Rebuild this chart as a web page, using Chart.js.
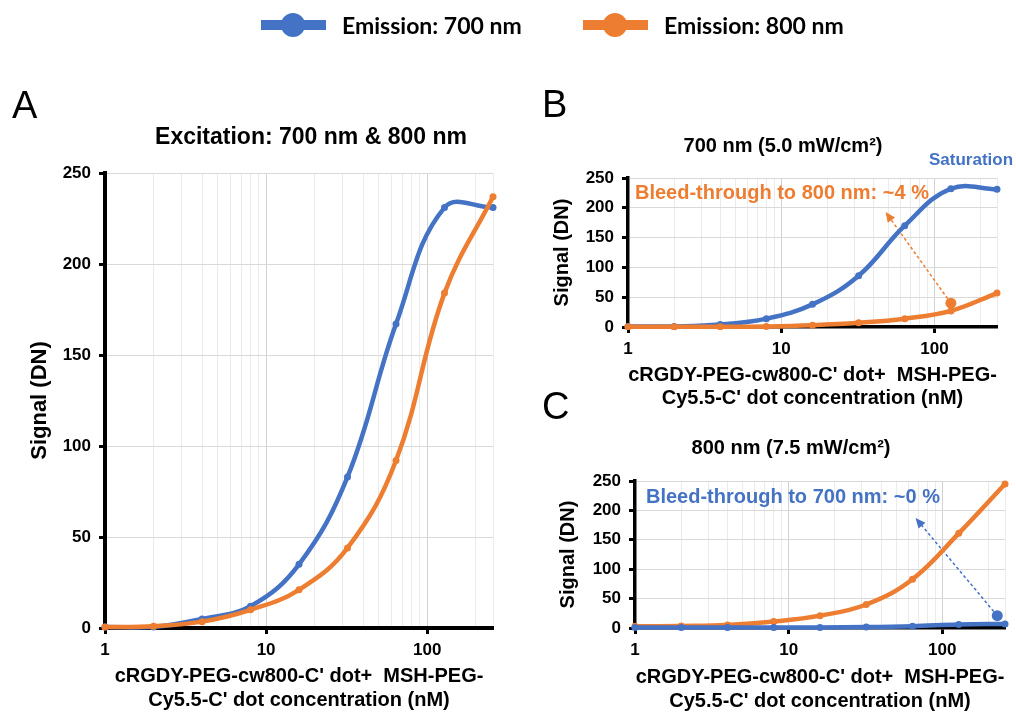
<!DOCTYPE html>
<html>
<head>
<meta charset="utf-8">
<script src="https://cdn.jsdelivr.net/npm/chart.js@4.4.0/dist/chart.umd.min.js"></script>
<style>
  body { margin: 0; background: #fff; width: 1016px; height: 715px; position: relative; overflow: hidden; }
  canvas { position: absolute; }
  #chartA { left: 0; top: 0; }
  #chartB { left: 520px; top: 0; }
  #chartC { left: 520px; top: 380px; }
  .legend-item { position: absolute; top: 10px; height: 30px; display: flex; align-items: center;
    font: bold 23px Lato, sans-serif; color: #000; white-space: nowrap; }
  .swatch { position: relative; width: 65px; height: 10px; margin-right: 16px; }
  .swatch i { position: absolute; left: 20px; top: -7px; width: 24px; height: 24px; border-radius: 50%; background: inherit; }
</style>
</head>
<body>
<canvas id="chartA" width="520" height="715"></canvas>
<canvas id="chartB" width="496" height="410"></canvas>
<canvas id="chartC" width="496" height="335"></canvas>
<div id="legend"></div>
<script>
// concentrations (nM), doubling series
const conc = [1, 2, 4, 8, 16, 32, 64, 128, 256];
const xTickLabels = [1, 10, 100];
const yTicks = [0, 50, 100, 150, 200, 250];
const seriesNames = ['Emission: 700 nm', 'Emission: 800 nm'];

// A: excitation at both wavelengths
const aEm700 = [0.5, 0.5, 5, 12, 35, 83, 167, 231, 231];
const aEm800 = [0.5, 1, 3.5, 10, 21, 44, 92, 184, 237];

// B: 700 nm excitation
const bEm700 = [1, 1, 4, 14, 38, 86, 170, 232, 231];
const bEm800 = [0.5, 0.5, 0.5, 1, 3, 7, 14, 27, 57];
const bMark = [{ x: 128, y: 40 }];

// C: 800 nm excitation
const cEm700 = [1, 1, 1, 1, 1, 1.5, 3, 6, 7];
const cEm800 = [3, 3.5, 5, 11, 21, 40, 83, 161, 245];
const cMark = [{ x: 228, y: 21 }];

const BLUE = '#4472C4';
const ORANGE = '#ED7D31';
const FONT = '"Liberation Sans", Arial, sans-serif';
const xTitle = ["cRGDY-PEG-cw800-C' dot+  MSH-PEG-", "Cy5.5-C' dot concentration (nM)"];

// legend across the top
[[seriesNames[0], BLUE, 261], [seriesNames[1], ORANGE, 583]].forEach(([name, color, left]) => {
  const item = document.createElement('div');
  item.className = 'legend-item';
  item.style.left = left + 'px';
  item.innerHTML = '<span class="swatch" style="background:' + color + '"><i></i></span>' + name;
  document.getElementById('legend').appendChild(item);
});

// panel letters, titles, notes and dashed arrows
const panelText = {
  id: 'panelText',
  beforeDatasetsDraw(chart, args, opts) {
    const ctx = chart.ctx, xs = chart.scales.x, ys = chart.scales.y;
    (opts.arrows || []).forEach(a => {
      const x0 = xs.getPixelForValue(a.from.x), y0 = ys.getPixelForValue(a.from.y);
      const x1 = xs.getPixelForValue(a.to.x), y1 = ys.getPixelForValue(a.to.y);
      const ang = Math.atan2(y1 - y0, x1 - x0);
      ctx.save();
      ctx.strokeStyle = a.color;
      ctx.fillStyle = a.color;
      ctx.lineWidth = 1.5;
      ctx.setLineDash([3, 2.5]);
      ctx.beginPath();
      ctx.moveTo(x0, y0);
      ctx.lineTo(x1 - 7 * Math.cos(ang), y1 - 7 * Math.sin(ang));
      ctx.stroke();
      ctx.setLineDash([]);
      ctx.beginPath();
      ctx.moveTo(x1, y1);
      ctx.lineTo(x1 - 10 * Math.cos(ang) + 4.5 * Math.sin(ang), y1 - 10 * Math.sin(ang) - 4.5 * Math.cos(ang));
      ctx.lineTo(x1 - 10 * Math.cos(ang) - 4.5 * Math.sin(ang), y1 - 10 * Math.sin(ang) + 4.5 * Math.cos(ang));
      ctx.closePath();
      ctx.fill();
      ctx.restore();
    });
  },
  afterDraw(chart, args, opts) {
    const ctx = chart.ctx;
    ctx.save();
    ctx.textBaseline = 'alphabetic';
    (opts.labels || []).forEach(t => {
      ctx.font = t.font;
      ctx.fillStyle = t.color || '#000';
      ctx.textAlign = t.align || 'left';
      ctx.fillText(t.text, t.x, t.y);
    });
    ctx.restore();
  }
};

function series(label, values, color, order) {
  return {
    label: label,
    data: conc.map((x, i) => ({ x: x, y: values[i] })),
    borderColor: color,
    backgroundColor: color,
    borderWidth: 4.5,
    pointRadius: 3.5,
    pointBorderWidth: 0,
    tension: 0.4,
    clip: false,
    order: order
  };
}

function marker(points, color) {
  return {
    label: 'marker',
    data: points,
    showLine: false,
    backgroundColor: color,
    borderColor: color,
    pointRadius: 5.5,
    pointBorderWidth: 0,
    clip: false,
    order: -1
  };
}

function isGridValue(v, max) {
  const m = v / Math.pow(10, Math.floor(Math.log10(v) + 1e-9));
  return Math.abs(m - Math.round(m)) < 1e-6 || v === max;
}

function makePanel(id, p) {
  const tickFont = { family: FONT, weight: 'bold', size: 17 };
  return new Chart(document.getElementById(id), {
    type: 'line',
    data: { datasets: p.datasets },
    options: {
      responsive: false,
      animation: false,
      layout: { padding: { top: p.top, right: p.right, left: 0, bottom: 0 } },
      plugins: {
        legend: { display: false },
        tooltip: { enabled: false },
        panelText: { labels: p.labels, arrows: p.arrows || [] }
      },
      scales: {
        x: {
          type: 'logarithmic',
          min: 1,
          max: 256,
          afterBuildTicks: s => { s.ticks = s.ticks.filter(t => isGridValue(t.value, 256)); },
          afterFit: s => { s.height = p.xHeight; },
          grid: {
            color: c => xTickLabels.includes(c.tick && c.tick.value) ? '#d2d2d2' : '#ebebeb',
            tickColor: c => xTickLabels.includes(c.tick && c.tick.value) ? '#000' : 'rgba(0,0,0,0)',
            tickLength: 6,
            tickWidth: 3
          },
          border: { color: '#000', width: p.axisWidth },
          ticks: {
            autoSkip: false,
            maxRotation: 0,
            padding: 6,
            color: '#000',
            font: tickFont,
            callback: v => xTickLabels.includes(v) ? String(v) : ''
          },
          title: {
            display: true,
            text: xTitle,
            color: '#000',
            font: { family: FONT, weight: 'bold', size: 20, lineHeight: p.xTitleLine },
            padding: { top: 0, bottom: p.xTitlePad }
          }
        },
        y: {
          min: yTicks[0],
          max: yTicks[yTicks.length - 1],
          afterFit: s => { s.width = p.yWidth; },
          grid: { color: '#d9d9d9', tickColor: '#000', tickLength: 6, tickWidth: 3 },
          border: { color: '#000', width: p.axisWidth },
          ticks: { stepSize: 50, padding: 8, color: '#000', font: tickFont },
          title: {
            display: true,
            text: 'Signal (DN)',
            color: '#000',
            font: { family: FONT, weight: 'bold', size: p.yTitleSize },
            padding: { top: p.yTitlePad, bottom: 0 }
          }
        }
      }
    },
    plugins: [panelText]
  });
}

makePanel('chartA', {
  datasets: [series(seriesNames[0], aEm700, BLUE, 1), series(seriesNames[1], aEm800, ORANGE, 0)],
  top: 173, right: 27, yWidth: 105, xHeight: 87, axisWidth: 4,
  yTitleSize: 22, yTitlePad: 27, xTitleLine: 1.2, xTitlePad: 3,
  labels: [
    { text: 'A', x: 12, y: 118, font: '38px ' + FONT },
    { text: 'Excitation: 700 nm & 800 nm', x: 311, y: 144, align: 'center', font: 'bold 23px ' + FONT }
  ]
});

makePanel('chartB', {
  datasets: [series(seriesNames[0], bEm700, BLUE, 1), series(seriesNames[1], bEm800, ORANGE, 0), marker(bMark, ORANGE)],
  top: 178, right: 19, yWidth: 108, xHeight: 83, axisWidth: 3.5,
  yTitleSize: 20, yTitlePad: 30, xTitleLine: 1.15, xTitlePad: 0,
  arrows: [{ from: bMark[0], to: { x: 48, y: 193 }, color: ORANGE }],
  labels: [
    { text: 'B', x: 22, y: 117, font: '38px ' + FONT },
    { text: '700 nm (5.0 mW/cm²)', x: 263, y: 152, align: 'center', font: 'bold 20px ' + FONT },
    { text: 'Saturation', x: 409, y: 165, color: BLUE, font: 'bold 17px ' + FONT },
    { text: 'Bleed-through to 800 nm: ~4 %', x: 115, y: 199, color: ORANGE, font: 'bold 20px ' + FONT }
  ]
});

makePanel('chartC', {
  datasets: [series(seriesNames[0], cEm700, BLUE, 0), series(seriesNames[1], cEm800, ORANGE, 1), marker(cMark, BLUE)],
  top: 101, right: 11, yWidth: 115, xHeight: 87, axisWidth: 3.5,
  yTitleSize: 20, yTitlePad: 36, xTitleLine: 1.2, xTitlePad: 2,
  arrows: [{ from: cMark[0], to: { x: 67, y: 187 }, color: BLUE }],
  labels: [
    { text: 'C', x: 22, y: 39, font: '38px ' + FONT },
    { text: '800 nm (7.5 mW/cm²)', x: 271, y: 74, align: 'center', font: 'bold 20px ' + FONT },
    { text: 'Bleed-through to 700 nm: ~0 %', x: 126, y: 123, color: BLUE, font: 'bold 20px ' + FONT }
  ]
});
</script>
</body>
</html>
